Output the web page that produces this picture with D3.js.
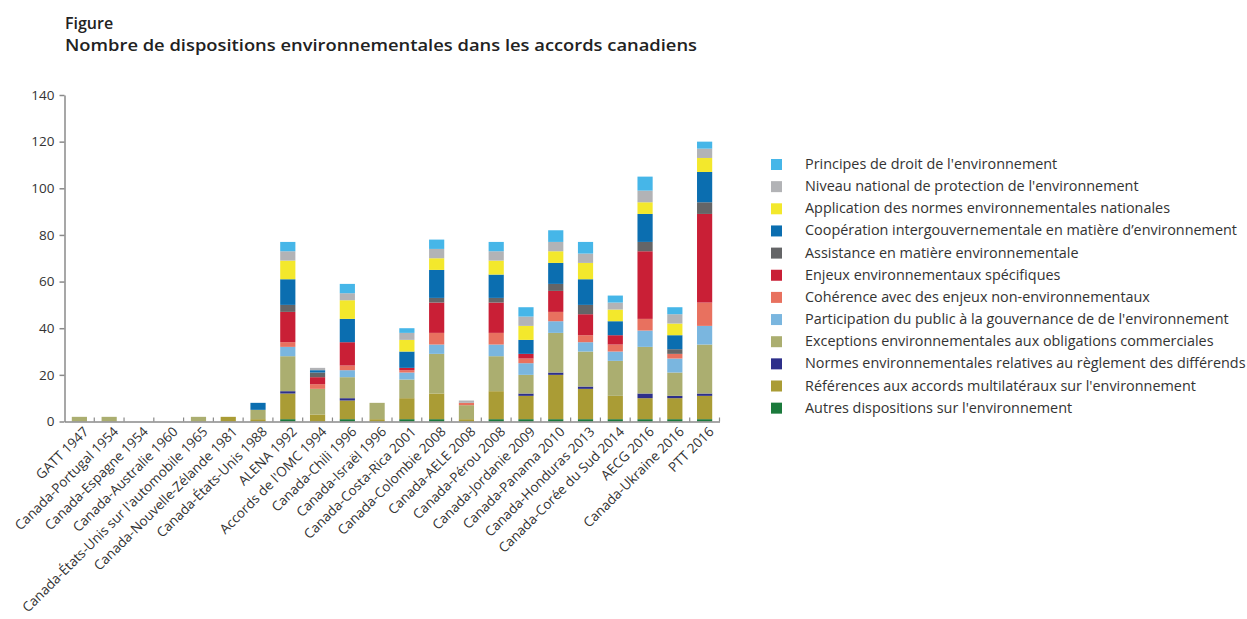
<!DOCTYPE html>
<html>
<head>
<meta charset="utf-8">
<script src="https://cdn.jsdelivr.net/npm/d3@7"></script>
<style>
  body { margin: 0; background: #fff; }
  text { font-family: "Open Sans", sans-serif; fill: #333; }
</style>
</head>
<body>
<div id="chart"></div>
<script>
// categories (accords)
var accords = ["GATT 1947", "Canada-Portugal 1954", "Canada-Espagne 1954", "Canada-Australie 1960",
  "Canada-États-Unis sur l'automobile 1965", "Canada-Nouvelle-Zélande 1981", "Canada-États-Unis 1988",
  "ALENA 1992", "Accords de l'OMC 1994", "Canada-Chili 1996", "Canada-Israël 1996", "Canada-Costa-Rica 2001",
  "Canada-Colombie 2008", "Canada-AELE 2008", "Canada-Pérou 2008", "Canada-Jordanie 2009", "Canada-Panama 2010",
  "Canada-Honduras 2013", "Canada-Corée du Sud 2014", "AECG 2016", "Canada-Ukraine 2016", "PTT 2016"];

// series, bottom of the stack first
var autres        = [0,0,0,0,0,0,0, 1,0, 1,0, 1, 1,0, 1, 1, 1, 1, 1, 1, 1, 1];
var references    = [0,0,0,0,0,2,1,11,3, 8,1, 9,11,1,12,10,19,13,10, 9, 9,10];
var normes        = [0,0,0,0,0,0,0, 1,0, 1,0, 0, 0,0, 0, 1, 1, 1, 0, 2, 1, 1];
var exceptions    = [2,2,0,0,2,0,4,15,11,9,7, 8,17,6,15, 8,17,15,15,20,10,21];
var participation = [0,0,0,0,0,0,0, 4,0, 3,0, 3, 4,0, 5, 5, 5, 4, 4, 7, 6, 8];
var coherence     = [0,0,0,0,0,0,0, 2,2, 2,0, 1, 5,1, 5, 2, 4, 3, 3, 5, 2,10];
var enjeux        = [0,0,0,0,0,0,0,13,3,10,0, 1,13,0,13, 2, 9, 9, 4,29, 0,38];
var assistance    = [0,0,0,0,0,0,0, 3,2, 0,0, 0, 2,0, 2, 0, 3, 4, 0, 4, 2, 5];
var cooperation   = [0,0,0,0,0,0,3,11,1,10,0, 7,12,0,10, 6, 9,11, 6,12, 6,13];
var application   = [0,0,0,0,0,0,0, 8,0, 8,0, 5, 5,0, 6, 6, 5, 7, 5, 5, 5, 6];
var niveau        = [0,0,0,0,0,0,0, 4,1, 3,0, 3, 4,1, 4, 4, 4, 4, 3, 5, 4, 4];
var principes     = [0,0,0,0,0,0,0, 4,0, 4,0, 2, 4,0, 4, 4, 5, 5, 3, 6, 3, 3];

var yTicks = [0, 20, 40, 60, 80, 100, 120, 140];

var series = [
  {key: "autres", label: "Autres dispositions sur l'environnement", values: autres, color: "#1b7a3c"},
  {key: "references", label: "Références aux accords multilatéraux  sur l'environnement", values: references, color: "#aa9c35"},
  {key: "normes", label: "Normes environnementales relatives au règlement des différends", values: normes, color: "#2d2f8a"},
  {key: "exceptions", label: "Exceptions environnementales aux obligations commerciales", values: exceptions, color: "#abae70"},
  {key: "participation", label: "Participation du public à la gouvernance de de l'environnement", values: participation, color: "#7ab6df"},
  {key: "coherence", label: "Cohérence avec des enjeux non-environnementaux", values: coherence, color: "#e8715f"},
  {key: "enjeux", label: "Enjeux environnementaux spécifiques", values: enjeux, color: "#c91f36"},
  {key: "assistance", label: "Assistance en matière environnementale", values: assistance, color: "#646567"},
  {key: "cooperation", label: "Coopération intergouvernementale en matière d\u2019environnement", values: cooperation, color: "#0b6eb0"},
  {key: "application", label: "Application des normes environnementales nationales", values: application, color: "#f3e82c"},
  {key: "niveau", label: "Niveau national de protection de l'environnement", values: niveau, color: "#b2b3b6"},
  {key: "principes", label: "Principes de droit de l'environnement", values: principes, color: "#46b6e8"}
];

var table = accords.map(function(a, i) {
  var row = {accord: a};
  series.forEach(function(s) { row[s.key] = s.values[i]; });
  return row;
});

var W = 1247, H = 619;
var svg = d3.select("#chart").append("svg")
  .attr("width", W)
  .attr("height", H);

// title
svg.append("text")
  .attr("x", 65).attr("y", 29)
  .style("font-size", "16px").style("font-weight", "600").style("fill", "#222")
  .text("Figure");
svg.append("text")
  .attr("x", 65).attr("y", 51)
  .attr("textLength", 632).attr("lengthAdjust", "spacingAndGlyphs")
  .style("font-size", "16px").style("font-weight", "600").style("fill", "#222")
  .text("Nombre de dispositions environnementales dans les accords canadiens");

var plotLeft = 64.5, plotRight = 719.5, plotTop = 95, plotBottom = 421.5;

var x = d3.scaleBand()
  .domain(accords)
  .range([plotLeft, plotRight])
  .paddingInner(0.49)
  .paddingOuter(0.245);

var y = d3.scaleLinear()
  .domain([0, 140])
  .range([plotBottom, plotTop]);

var stack = d3.stack().keys(series.map(function(s) { return s.key; }));
var stacked = stack(table);

// bars
var layers = svg.append("g").selectAll("g")
  .data(stacked)
  .enter().append("g")
  .attr("fill", function(d, i) { return series[i].color; });

layers.selectAll("rect")
  .data(function(d) { return d; })
  .enter().append("rect")
  .attr("x", function(d) { return x(d.data.accord); })
  .attr("y", function(d) { return y(d[1]); })
  .attr("width", x.bandwidth())
  .attr("height", function(d) { return y(d[0]) - y(d[1]); });

// axis-y
var yAxis = svg.append("g")
  .attr("transform", "translate(" + plotLeft + ",0)")
  .call(d3.axisLeft(y).tickValues(yTicks).tickSize(5).tickSizeOuter(0).tickPadding(5));
yAxis.select(".domain").attr("stroke", "#8a8a8a").attr("stroke-width", 1.5);
yAxis.selectAll(".tick line").attr("stroke", "#8a8a8a").attr("stroke-width", 1.5);
yAxis.selectAll(".tick text")
  .style("font-size", "13.5px").style("fill", "#333");

// axis-x
var xAxis = svg.append("g")
  .attr("transform", "translate(0," + plotBottom + ")")
  .call(d3.axisBottom(x).tickSize(0).tickSizeOuter(0).tickFormat(""));
xAxis.select(".domain").attr("stroke", "#8a8a8a").attr("stroke-width", 1.5);

// small ticks between the bars
svg.append("g").selectAll("line")
  .data(accords)
  .enter().append("line")
  .attr("x1", function(d) { return x(d) + x.bandwidth() + (x.step() - x.bandwidth()) / 2; })
  .attr("x2", function(d) { return x(d) + x.bandwidth() + (x.step() - x.bandwidth()) / 2; })
  .attr("y1", plotBottom - 4)
  .attr("y2", plotBottom)
  .attr("stroke", "#8a8a8a")
  .attr("stroke-width", 1.2);

// rotated category labels
svg.append("g").selectAll("text")
  .data(accords)
  .enter().append("text")
  .attr("transform", function(d) {
    return "translate(" + (x(d) + x.bandwidth() / 2 + 10) + "," + (plotBottom + 11) + ") rotate(-45)";
  })
  .attr("text-anchor", "end")
  .style("font-size", "13.5px")
  .style("fill", "#333")
  .text(function(d) { return d; });

// legend, top entry first
var legend = svg.append("g").selectAll("g")
  .data(series.slice().reverse())
  .enter().append("g")
  .attr("transform", function(d, i) { return "translate(771," + (164 + i * 22.15) + ")"; });

legend.append("rect")
  .attr("x", 0).attr("y", -5)
  .attr("width", 11).attr("height", 11)
  .attr("fill", function(d) { return d.color; });

legend.append("text")
  .attr("x", 34).attr("y", 5)
  .style("font-size", "14.4px")
  .style("fill", "#333")
  .text(function(d) { return d.label; });
</script>
</body>
</html>
